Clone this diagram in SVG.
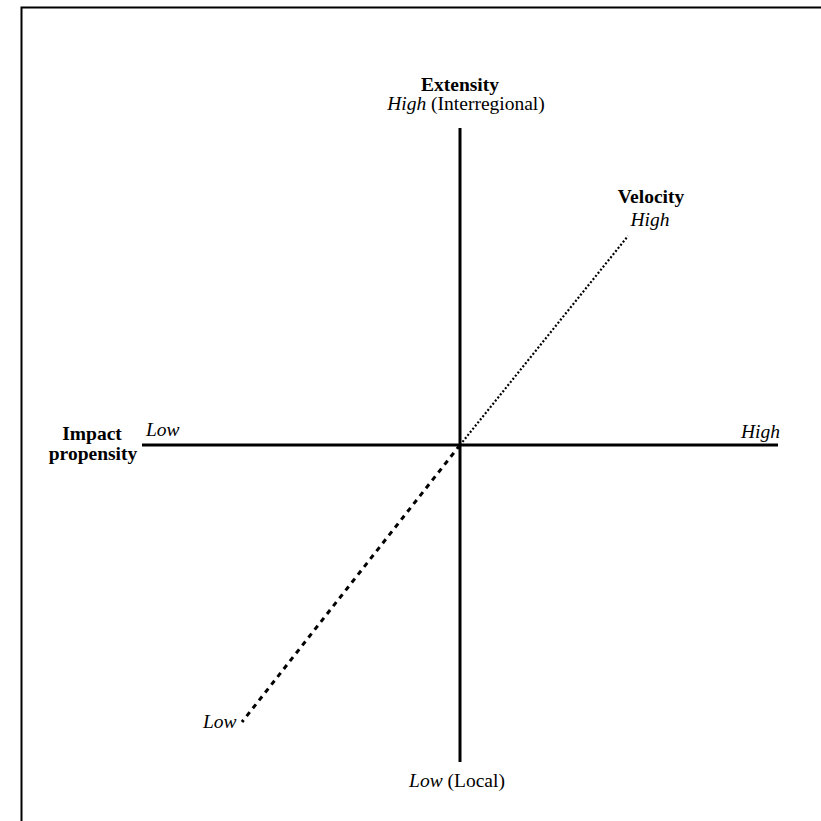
<svg xmlns="http://www.w3.org/2000/svg" width="821" height="821" viewBox="0 0 821 821">
<style>
text{font-family:"Liberation Serif","Times New Roman",serif;font-size:19.5px;fill:#000}
.b{font-weight:bold}
.i{font-style:italic}
.ax{stroke:#000;stroke-width:3;fill:none}
</style>
<rect width="821" height="821" fill="#fff"/>
<g id="frame"><path d="M21.5 821V7.5H821" stroke="#000" stroke-width="2" fill="none"/></g>
<g id="connectors">
<line class="ax" x1="460" y1="128" x2="460" y2="762"/>
<line class="ax" x1="142" y1="445" x2="778" y2="445" stroke-width="2.5"/>
<line x1="460" y1="445" x2="628" y2="236" stroke="#000" stroke-width="2.2" stroke-dasharray="2 2"/>
<line x1="460" y1="445" x2="242" y2="722" stroke="#000" stroke-width="3" stroke-dasharray="5 5"/>
</g>
<g id="extensity"><text x="460" y="91" text-anchor="middle" class="b">Extensity</text>
<text x="466" y="110" text-anchor="middle"><tspan class="i">High</tspan> (Interregional)</text></g>
<g id="velocity"><text x="651" y="203" text-anchor="middle" class="b">Velocity</text>
<text x="650" y="226" text-anchor="middle" class="i">High</text></g>
<g id="impact"><text x="92" y="440" text-anchor="middle" class="b">Impact</text>
<text x="93" y="460" text-anchor="middle" class="b">propensity</text>
<text x="146" y="436" class="i">Low</text></g>
<g id="impact-high"><text x="780" y="438" text-anchor="end" class="i">High</text></g>
<g id="velocity-low"><text x="203" y="728" class="i">Low</text></g>
<g id="extensity-low"><text x="457" y="787" text-anchor="middle"><tspan class="i">Low</tspan> (Local)</text></g>
</svg>
